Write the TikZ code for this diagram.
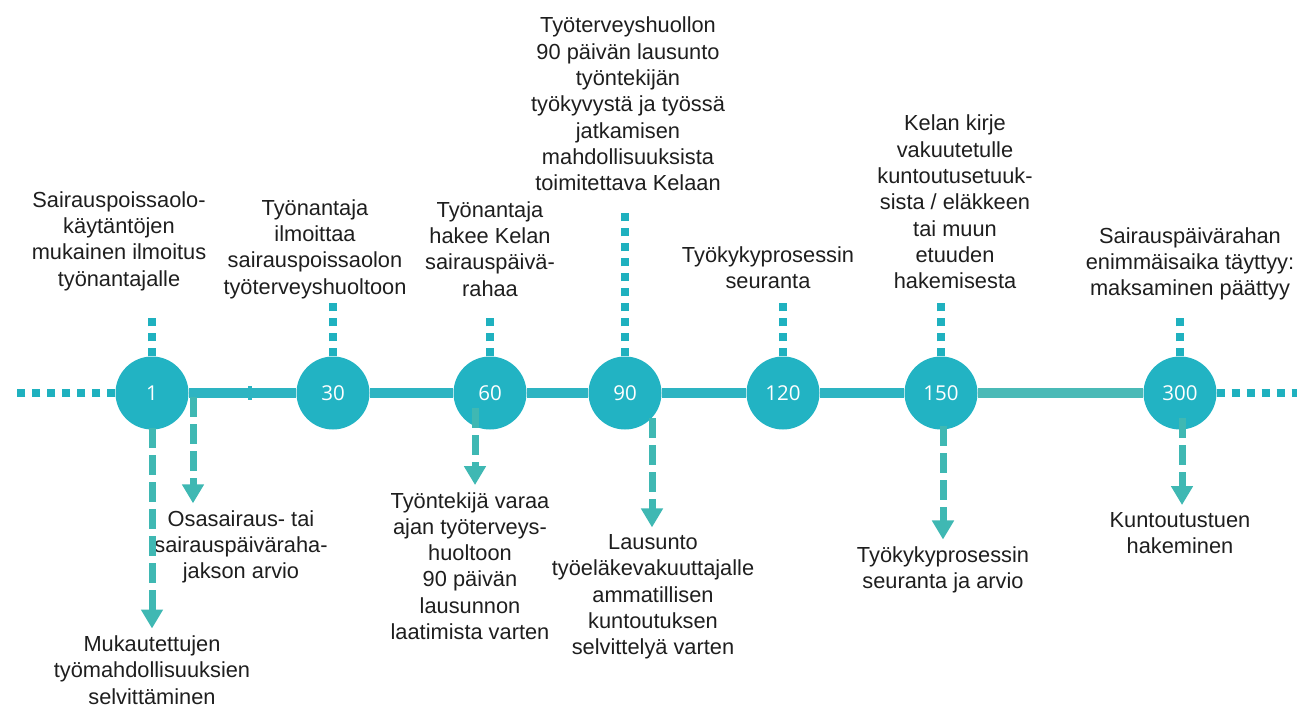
\documentclass[tikz,border=0pt]{standalone}
\usepackage{fontspec}
\setmainfont{Liberation Sans}
\newfontfamily\numfont{Open Sans}
\usetikzlibrary{arrows.meta}
\definecolor{circcol}{HTML}{22B3C3}
\definecolor{linecol}{HTML}{2DB4C2}
\definecolor{line2col}{HTML}{4ABAB7}
\definecolor{arrcol}{HTML}{3FB8B3}
\definecolor{dotcol}{HTML}{1FB1BF}
\definecolor{txtcol}{HTML}{1E1E1E}
\tikzset{
  circ/.style={circle, fill=circcol, draw=none, minimum size=73pt, inner sep=0pt,
    text=white, font=\numfont\fontsize{20.5}{23}\selectfont},
  lbl/.style={align=center, inner sep=0pt, text=txtcol,
    font=\fontsize{21.8}{26.3}\selectfont},
  mainline/.style={draw=linecol, line width=10pt},
  dotline/.style={draw=dotcol, line width=8pt, dash pattern=on 8pt off 7pt},
  dasharrow/.style={draw=arrcol, line width=7pt, dash pattern=on 20pt off 7pt,
    -{Triangle[width=21pt,length=19pt]}, shorten >=7pt},
}
\begin{document}
\begin{tikzpicture}[x=1pt,y=-1pt]
\useasboundingbox (0,0) rectangle (1302,709);
% circles
\node[circ] (c1)   at (152,393)  {1};
\node[circ] (c30)  at (333,393)  {30};
\node[circ] (c60)  at (490,393)  {60};
\node[circ] (c90)  at (625,393)  {90};
\node[circ] (c120) at (783,393)  {120};
\node[circ] (c150) at (941,393)  {150};
\node[circ] (c300) at (1180,393) {300};
% main line
\draw[mainline] (c1) -- (c30) -- (c60) -- (c90) -- (c120) -- (c150);
\draw[mainline, draw=line2col] (c150) -- (c300);
\draw[draw=linecol, line width=4pt] (250,386) -- (250,400);
% end dotted lines
\coordinate (lend) at (12,393);
\coordinate (rend) at (1297,393);
\draw[dotline] (c1.west) -- (lend);
\draw[dotline] (c300.east) -- (rend);
% top labels
\node[lbl] (t1)   at (119,241)  {Sairauspoissaolo-\\käytäntöjen\\mukainen ilmoitus\\työnantajalle};
\node[lbl] (t30)  at (315,249)  {Työnantaja\\ilmoittaa\\sairauspoissaolon\\työterveyshuoltoon};
\node[lbl] (t60)  at (490,249)  {Työnantaja\\hakee Kelan\\sairauspäivä-\\rahaa};
\node[lbl] (t90)  at (628,104)  {Työterveyshuollon\\90 päivän lausunto\\työntekijän\\työkyvystä ja työssä\\jatkamisen\\mahdollisuuksista\\toimitettava Kelaan};
\node[lbl] (t120) at (768,268)  {Työkykyprosessin\\seuranta};
\node[lbl] (t150) at (955,202)  {Kelan kirje\\vakuutetulle\\kuntoutusetuuk-\\sista / eläkkeen\\tai muun\\etuuden\\hakemisesta};
\node[lbl] (t300) at (1190,264) {Sairauspäivärahan\\enimmäisaika täyttyy:\\maksaminen päättyy};
% top dotted stubs
\draw[dotline] (c1.north)   -- ++(0,-41);
\draw[dotline] (c30.north)  -- ++(0,-57);
\draw[dotline] (c60.north)  -- ++(0,-44);
\draw[dotline] (c90.north)  -- ++(0,-146);
\draw[dotline] (c120.north) -- ++(0,-57);
\draw[dotline] (c150.north) -- ++(0,-59);
\draw[dotline] (c300.north) -- ++(0,-45);
% bottom labels
\node[lbl] (b1)   at (152,670)  {Mukautettujen\\työmahdollisuuksien\\selvittäminen};
\node[lbl] (b1b)  at (241,547)  {Osasairaus- tai\\sairauspäiväraha-\\jakson arvio};
\node[lbl] (b60)  at (470,566)  {Työntekijä varaa\\ajan työterveys-\\huoltoon\\90 päivän\\lausunnon\\laatimista varten};
\node[lbl] (b90)  at (653,597)  {Lausunto\\työeläkevakuuttajalle\\ammatillisen\\kuntoutuksen\\selvittelyä varten};
\node[lbl] (b150) at (943,570)  {Työkykyprosessin\\seuranta ja arvio};
\node[lbl] (b300) at (1180,533) {Kuntoutustuen\\hakeminen};
% dashed arrows
\coordinate (s1)   at (152,428);
\coordinate (s1b)  at (193,397);
\coordinate (s60)  at (475,408);
\coordinate (s90)  at (652,418);
\coordinate (s150) at (943,426);
\coordinate (s300) at (1182,418);
\draw[dasharrow] (s1) -- (s1 |- b1.north);
\draw[dasharrow] (s1b) -- (s1b |- b1b.north);
\draw[dasharrow] (s60) -- (s60 |- b60.north);
\draw[dasharrow] (s90) -- (s90 |- b90.north);
\draw[dasharrow] (s150) -- (s150 |- b150.north);
\draw[dasharrow] (s300) -- (s300 |- b300.north);
\end{tikzpicture}
\end{document}
